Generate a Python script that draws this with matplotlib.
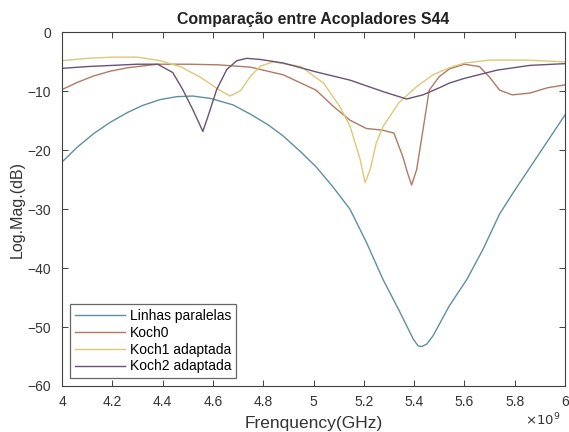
import numpy as np
import matplotlib
matplotlib.use("Agg")
import matplotlib.pyplot as plt
from matplotlib.ticker import FuncFormatter, MultipleLocator

plt.rcParams['font.family'] = ['Liberation Sans', 'DejaVu Sans']

# S44 magnitude (dB) versus frequency (GHz) for each coupler
f_linhas = [4.00, 4.06, 4.125, 4.19, 4.26, 4.32, 4.39, 4.457, 4.52, 4.59, 4.68, 4.75,
            4.82, 4.88, 4.95, 5.01, 5.077, 5.145, 5.21, 5.276, 5.344, 5.396, 5.416, 5.43,
            5.45, 5.475, 5.54, 5.61, 5.674, 5.74, 5.80, 5.90, 6.00]
s_linhas = [-22.0, -19.5, -17.2, -15.3, -13.6, -12.4, -11.4, -10.9, -10.8, -11.2, -12.3, -13.9,
            -15.7, -17.6, -20.3, -22.8, -26.2, -30.0, -35.6, -41.9, -47.5, -52.0, -53.2, -53.3,
            -52.9, -51.5, -46.4, -41.9, -36.8, -30.8, -26.8, -20.4, -14.0]

f_koch0 = [4.00, 4.06, 4.125, 4.19, 4.26, 4.38, 4.50, 4.62, 4.75, 4.88, 5.01, 5.08,
           5.145, 5.21, 5.276, 5.32, 5.355, 5.375, 5.39, 5.41, 5.435, 5.46, 5.50, 5.54,
           5.60, 5.66, 5.70, 5.74, 5.79, 5.86, 5.93, 6.00]
s_koch0 = [-9.7, -8.5, -7.4, -6.6, -6.0, -5.4, -5.4, -5.5, -5.9, -7.2, -9.8, -12.6,
           -14.9, -16.3, -16.6, -17.1, -21.1, -24.0, -25.9, -23.3, -16.6, -9.8, -7.5, -6.2,
           -5.4, -5.8, -7.6, -9.8, -10.6, -10.3, -9.4, -8.9]

f_koch1 = [4.00, 4.10, 4.20, 4.30, 4.39, 4.47, 4.55, 4.63, 4.668, 4.71, 4.75, 4.79,
           4.84, 4.95, 5.04, 5.105, 5.145, 5.185, 5.205, 5.225, 5.25, 5.276, 5.34, 5.41,
           5.475, 5.54, 5.60, 5.70, 5.85, 6.00]
s_koch1 = [-4.8, -4.4, -4.2, -4.2, -4.8, -5.8, -7.6, -9.9, -10.8, -9.9, -7.4, -5.7,
           -5.0, -5.8, -8.6, -12.6, -15.9, -21.5, -25.5, -23.3, -18.7, -16.0, -11.9, -9.2,
           -7.2, -6.0, -5.2, -4.7, -4.7, -5.0]

f_koch2 = [4.00, 4.10, 4.20, 4.30, 4.38, 4.44, 4.48, 4.52, 4.56, 4.58, 4.615, 4.655,
           4.695, 4.735, 4.79, 4.88, 5.01, 5.145, 5.28, 5.37, 5.435, 5.50, 5.54, 5.60,
           5.73, 5.86, 6.00]
s_koch2 = [-6.1, -5.8, -5.6, -5.4, -5.4, -6.8, -9.7, -13.1, -16.8, -14.3, -9.7, -6.3,
           -4.8, -4.4, -4.6, -5.2, -6.7, -8.1, -10.1, -11.3, -10.6, -9.4, -8.6, -7.8,
           -6.4, -5.6, -5.3]

series = [("Linhas paralelas", f_linhas, s_linhas, "#5f8fa3"),
          ("Koch0", f_koch0, s_koch0, "#b07a62"),
          ("Koch1 adaptada", f_koch1, s_koch1, "#e0c774"),
          ("Koch2 adaptada", f_koch2, s_koch2, "#6a5275")]

fig = plt.figure(figsize=(5.69, 4.32), dpi=100)
ax = fig.add_axes([0.109, 0.1065, 0.884, 0.8185])

for name, f, s, c in series:
    ax.plot(np.array(f) * 1e9, s, color=c, linewidth=1.0, label=name)

ax.set_xlim(4e9, 6e9)
ax.set_ylim(-60, 0)
ax.xaxis.set_major_locator(MultipleLocator(0.2e9))
ax.yaxis.set_major_locator(MultipleLocator(10))
ax.xaxis.set_major_formatter(FuncFormatter(lambda v, p: '%g' % round(v / 1e9, 2)))

axcol = '#404040'
for sp in ax.spines.values():
    sp.set_color(axcol)
    sp.set_linewidth(0.8)
ax.tick_params(direction='in', top=True, right=True, length=4, width=0.7,
               colors=axcol, labelsize=10, labelcolor='#333333')
ax.tick_params(axis='x', pad=6.5)
ax.tick_params(axis='y', pad=8)

ax.set_title('Comparação entre Acopladores S44', fontsize=11.4, fontweight='bold',
             color='#222222', pad=6)
ax.set_xlabel('Frenquency(GHz)', fontsize=12.5, color='#333333', labelpad=5)
ax.set_ylabel('Log.Mag.(dB)', fontsize=11.5, color='#333333', labelpad=2)
ax.text(0.99, -0.097, r'$\times10^{9}$', transform=ax.transAxes, ha='right', va='center',
        fontsize=9.5, color='#333333')

leg = ax.legend(loc='lower left', fontsize=10, frameon=True, fancybox=False,
                borderaxespad=0.55, handlelength=3.6, handletextpad=0.4,
                labelspacing=0.2, borderpad=0.35)
leg.get_frame().set_edgecolor(axcol)
leg.get_frame().set_linewidth(0.9)

fig.savefig('out.png', dpi=100)
